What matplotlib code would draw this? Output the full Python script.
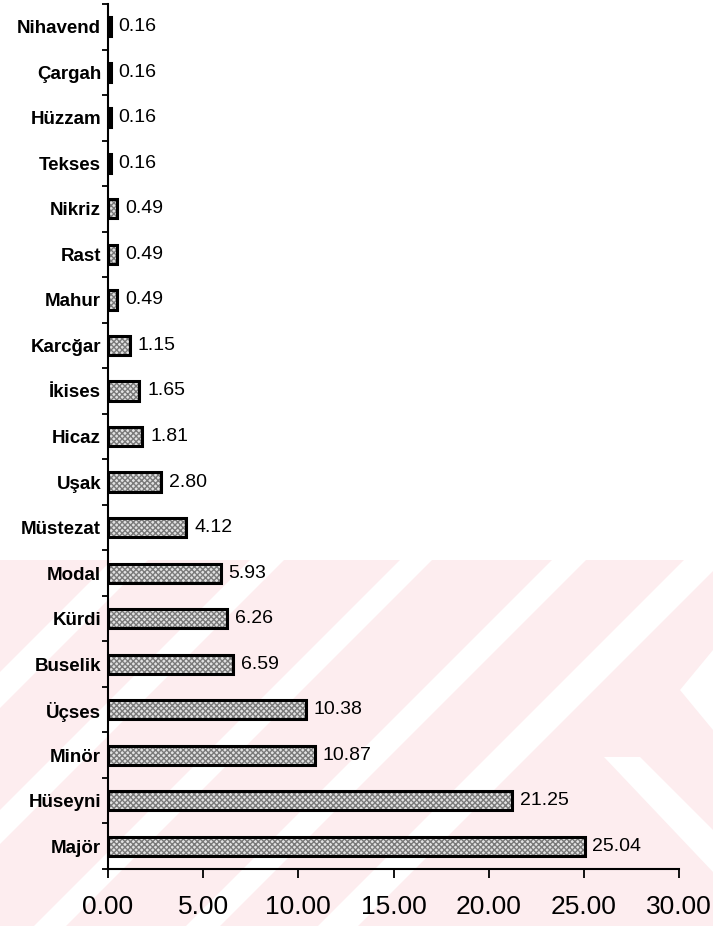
import matplotlib.pyplot as plt
from matplotlib.patches import Polygon, Rectangle

makams = ["Nihavend", "Çargah", "Hüzzam", "Tekses", "Nikriz", "Rast", "Mahur",
          "Karcğar", "İkises", "Hicaz", "Uşak", "Müstezat", "Modal", "Kürdi",
          "Buselik", "Üçses", "Minör", "Hüseyni", "Majör"]
percents = [0.16, 0.16, 0.16, 0.16, 0.49, 0.49, 0.49, 1.15, 1.65, 1.81, 2.80,
            4.12, 5.93, 6.26, 6.59, 10.38, 10.87, 21.25, 25.04]
xticks = [0, 5, 10, 15, 20, 25, 30]

plt.rcParams["font.family"] = ["Liberation Sans", "DejaVu Sans"]

fig = plt.figure(figsize=(7.13, 9.26), dpi=100)

# faint pink watermark behind the lower part of the chart (pixel coords)
wm = fig.add_axes([0, 0, 1, 1], zorder=-1)
wm.set_xlim(0, 713)
wm.set_ylim(926, 0)
wm.axis("off")
wm.add_patch(Rectangle((0, 560), 713, 366, color="#fdedef", lw=0))
# diagonal white bands, given by where they start on the top edge
for x0, w in [(112, 36), (250, 34), (400, 32), (552, 34), (684, 40)]:
    pts = [(x0, 560), (x0 + w, 560), (x0 + w - 400, 960), (x0 - 400, 960)]
    wm.add_patch(Polygon(pts, closed=True, color="white", lw=0))
wm.add_patch(Polygon([(604, 757), (640, 757), (713, 830), (713, 872)],
                     closed=True, color="white", lw=0))
wm.add_patch(Polygon([(713, 650), (680, 690), (713, 730)],
                     closed=True, color="white", lw=0))

ax = fig.add_axes([0.1515, 0.0616, 0.8008, 0.934])
ax.patch.set_alpha(0)
y = list(range(len(makams)))
ax.barh(y, percents, height=0.42, color="#e2e2e2", hatch="xxxxxx",
        edgecolor="#7a7a7a", linewidth=0, zorder=2)
ax.barh(y, percents, height=0.42, fill=False, edgecolor="black",
        linewidth=2.2, zorder=3)
for yi, v in zip(y, percents):
    ax.text(v + 0.4, yi, f"{v:.2f}", va="center", ha="left", fontsize=14,
            color="black")

ax.set_ylim(len(makams) - 0.5, -0.5)
ax.set_xlim(0, 30)
ax.set_yticks(y)
ax.set_yticklabels(makams, fontsize=13.5, fontweight="bold")
ax.set_yticks([i - 0.5 for i in range(len(makams) + 1)], minor=True)
ax.tick_params(axis="y", which="major", length=0, pad=5)
ax.tick_params(axis="y", which="minor", length=4, width=1.3)
ax.set_xticks(xticks)
ax.set_xticklabels([f"{t:.2f}" for t in xticks], fontsize=19)
ax.tick_params(axis="x", length=6.5, width=1.3, pad=12)
for side in ("top", "right"):
    ax.spines[side].set_visible(False)
for side in ("left", "bottom"):
    ax.spines[side].set_linewidth(1.5)

fig.savefig("out.png", dpi=100)
